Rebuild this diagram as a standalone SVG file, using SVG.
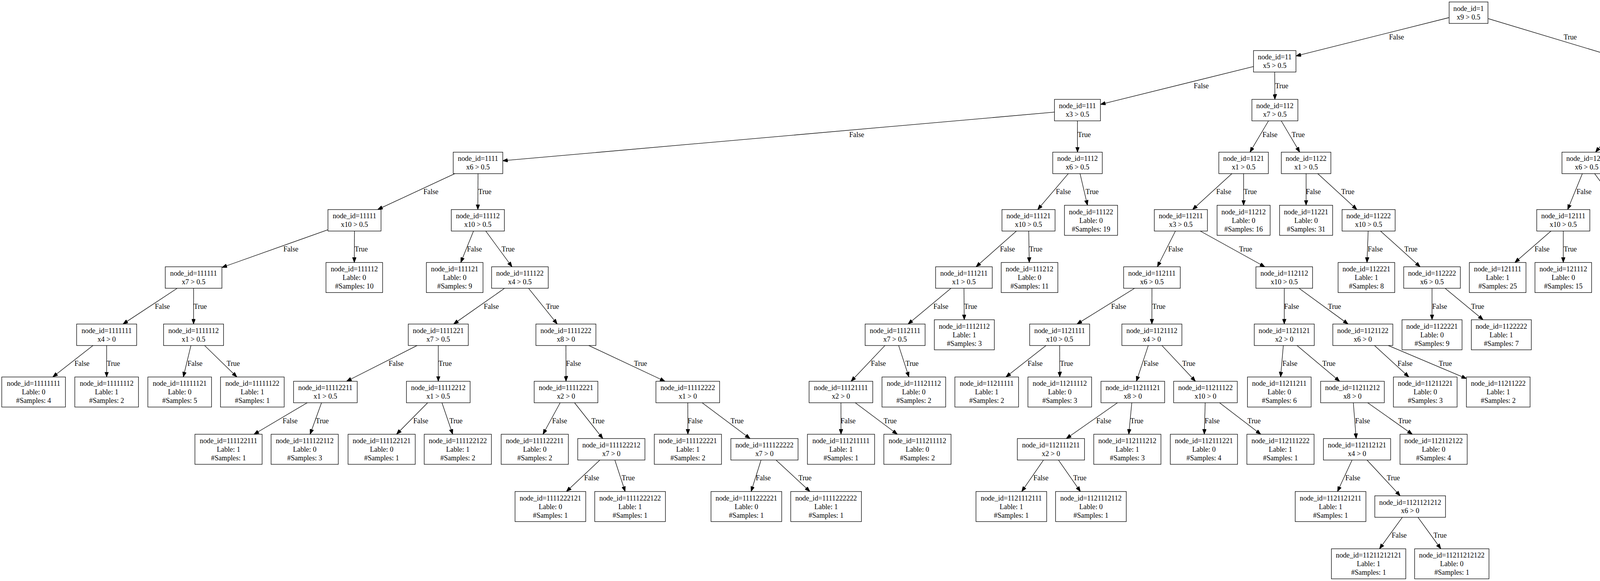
<svg xmlns="http://www.w3.org/2000/svg" width="5788" height="1488" viewBox="0 0 5788 1488">
<style>
.nodes text,.edges text{font-family:"Liberation Serif","Times New Roman",serif;font-size:18.2px;fill:#000}
.nodes text{text-anchor:middle}
.edges line{stroke:#000;stroke-width:1.3;fill:none;marker-end:url(#arr)}
</style>
<defs>
<marker id="arr" markerUnits="userSpaceOnUse" viewBox="0 0 13 9.8" refX="13" refY="4.9" markerWidth="13" markerHeight="9.8" orient="auto"><path d="M0,0 L13,4.9 L0,9.8 z" fill="#000" stroke="#000" stroke-width="1"/></marker>
<rect id="i1" x="-49.75" y="-27.5" width="99.5" height="55" fill="#fff" stroke="#000" stroke-width="1.3"/>
<rect id="i2" x="-54.3" y="-27.5" width="108.6" height="55" fill="#fff" stroke="#000" stroke-width="1.3"/>
<rect id="i3" x="-58.85" y="-27.5" width="117.7" height="55" fill="#fff" stroke="#000" stroke-width="1.3"/>
<rect id="i4" x="-63.4" y="-27.5" width="126.8" height="55" fill="#fff" stroke="#000" stroke-width="1.3"/>
<rect id="i5" x="-67.95" y="-27.5" width="135.9" height="55" fill="#fff" stroke="#000" stroke-width="1.3"/>
<rect id="i6" x="-72.5" y="-27.5" width="145" height="55" fill="#fff" stroke="#000" stroke-width="1.3"/>
<rect id="i7" x="-76.8" y="-27.5" width="153.6" height="55" fill="#fff" stroke="#000" stroke-width="1.3"/>
<rect id="i8" x="-81.5" y="-27.5" width="163" height="55" fill="#fff" stroke="#000" stroke-width="1.3"/>
<rect id="i9" x="-86" y="-27.5" width="172" height="55" fill="#fff" stroke="#000" stroke-width="1.3"/>
<rect id="i10" x="-90.5" y="-27.5" width="181" height="55" fill="#fff" stroke="#000" stroke-width="1.3"/>
<rect id="l4" x="-63.4" y="-38.5" width="126.8" height="77" fill="#fff" stroke="#000" stroke-width="1.3"/>
<rect id="l5" x="-67.95" y="-38.5" width="135.9" height="77" fill="#fff" stroke="#000" stroke-width="1.3"/>
<rect id="l6" x="-72.5" y="-38.5" width="145" height="77" fill="#fff" stroke="#000" stroke-width="1.3"/>
<rect id="l7" x="-76.8" y="-38.5" width="153.6" height="77" fill="#fff" stroke="#000" stroke-width="1.3"/>
<rect id="l8" x="-81.5" y="-38.5" width="163" height="77" fill="#fff" stroke="#000" stroke-width="1.3"/>
<rect id="l9" x="-86" y="-38.5" width="172" height="77" fill="#fff" stroke="#000" stroke-width="1.3"/>
<rect id="l10" x="-90.5" y="-38.5" width="181" height="77" fill="#fff" stroke="#000" stroke-width="1.3"/>
<rect id="l11" x="-95.15" y="-38.5" width="190.3" height="77" fill="#fff" stroke="#000" stroke-width="1.3"/>
</defs>
<rect x="0" y="0" width="5788" height="1488" fill="#fff"/>
<g class="edges" id="edges">
<g><line x1="3709.75" y1="45" x2="3317.6" y2="143.4"/><text x="3556" y="101.2">False</text></g>
<g><line x1="3809.25" y1="47.5" x2="4118.4" y2="140.6"/><text x="4003" y="101.2">True</text></g>
<g><line x1="3209" y1="170.4" x2="2817.2" y2="267.4"/><text x="3056" y="225.7">False</text></g>
<g><line x1="3263.3" y1="184.5" x2="3263.7" y2="254.5"/><text x="3264.5" y="225.7">True</text></g>
<g><line x1="4172.7" y1="184.5" x2="4173" y2="254.5"/><text x="4174" y="225.7">False</text></g>
<g><line x1="4227" y1="182.5" x2="4380.2" y2="254.5"/><text x="4330.4" y="225.7">True</text></g>
<g><line x1="2699.45" y1="287.2" x2="1286.7" y2="411.65"/><text x="2174" y="350.7">False</text></g>
<g><line x1="2758.3" y1="309.5" x2="2758.4" y2="389.7"/><text x="2759" y="350.7">True</text></g>
<g><line x1="3247.4" y1="309.5" x2="3199.9" y2="389.7"/><text x="3232" y="350.7">False</text></g>
<g><line x1="3280" y1="309.5" x2="3327.3" y2="389.7"/><text x="3306.7" y="350.7">True</text></g>
<g><line x1="4150.4" y1="309.5" x2="4084.6" y2="389.7"/><text x="4131.6" y="350.7">False</text></g>
<g><line x1="4181.1" y1="309.5" x2="4201.3" y2="378.7"/><text x="4194.6" y="350.7">True</text></g>
<g><line x1="4438.7" y1="309.5" x2="4438.3" y2="378.7"/><text x="4438.4" y="350.7">False</text></g>
<g><line x1="4472.1" y1="309.5" x2="4569.3" y2="389.7"/><text x="4525.7" y="350.7">True</text></g>
<g><line x1="1164.5" y1="444.7" x2="966.7" y2="536.7"/><text x="1084" y="496.9">False</text></g>
<g><line x1="1223.7" y1="444.7" x2="1223.3" y2="536.7"/><text x="1224.5" y="496.9">True</text></g>
<g><line x1="2734.9" y1="444.7" x2="2656.5" y2="536.7"/><text x="2703" y="496.9">False</text></g>
<g><line x1="2764.9" y1="444.7" x2="2783.9" y2="525.7"/><text x="2779" y="496.9">True</text></g>
<g><line x1="3153.6" y1="444.7" x2="3053" y2="536.7"/><text x="3113.6" y="496.9">False</text></g>
<g><line x1="3183.6" y1="444.7" x2="3183.6" y2="525.7"/><text x="3184" y="496.9">True</text></g>
<g><line x1="3343.6" y1="444.7" x2="3343.6" y2="525.7"/><text x="3343" y="496.9">False</text></g>
<g><line x1="3373.5" y1="444.7" x2="3473.7" y2="536.7"/><text x="3433.6" y="496.9">True</text></g>
<g><line x1="4050.8" y1="444.7" x2="4013.2" y2="536.7"/><text x="4036" y="496.9">False</text></g>
<g><line x1="4082.2" y1="444.7" x2="4149.6" y2="536.7"/><text x="4124" y="496.9">True</text></g>
<g><line x1="4602.7" y1="444.7" x2="4602.7" y2="536.7"/><text x="4602" y="496.9">False</text></g>
<g><line x1="4665.7" y1="433.6" x2="5099.75" y2="546.5"/><text x="4919" y="496.9">True</text></g>
<g><line x1="839.55" y1="588.4" x2="568.1" y2="685"/><text x="725.4" y="643.9">False</text></g>
<g><line x1="907.5" y1="591.7" x2="907" y2="672.3"/><text x="907.8" y="643.9">True</text></g>
<g><line x1="1212.2" y1="591.7" x2="1179.6" y2="672.3"/><text x="1195.5" y="643.9">False</text></g>
<g><line x1="1243.5" y1="591.7" x2="1310.8" y2="683.3"/><text x="1284" y="643.9">True</text></g>
<g><line x1="2602" y1="591.7" x2="2498.7" y2="683.3"/><text x="2560" y="643.9">False</text></g>
<g><line x1="2633.5" y1="591.7" x2="2634.9" y2="672.3"/><text x="2634.8" y="643.9">True</text></g>
<g><line x1="3009.1" y1="591.7" x2="2962.9" y2="683.3"/><text x="2990.5" y="643.9">False</text></g>
<g><line x1="3072.7" y1="591.7" x2="3238" y2="683.3"/><text x="3172" y="643.9">True</text></g>
<g><line x1="3502.5" y1="591.7" x2="3499.5" y2="672.3"/><text x="3501.5" y="643.9">False</text></g>
<g><line x1="3534.1" y1="591.7" x2="3635.5" y2="683.3"/><text x="3595" y="643.9">True</text></g>
<g><line x1="3970.5" y1="591.7" x2="3878.1" y2="672.3"/><text x="3928.5" y="643.9">False</text></g>
<g><line x1="4002" y1="591.7" x2="4002" y2="672.3"/><text x="4003" y="643.9">True</text></g>
<g><line x1="4169.8" y1="591.7" x2="4170" y2="672.3"/><text x="4170.6" y="643.9">False</text></g>
<g><line x1="4201.4" y1="591.7" x2="4293.8" y2="672.3"/><text x="4265.3" y="643.9">True</text></g>
<g><line x1="4584.6" y1="591.7" x2="4524.1" y2="683.3"/><text x="4560" y="643.9">False</text></g>
<g><line x1="4616.8" y1="591.7" x2="4663.9" y2="683.3"/><text x="4645.3" y="643.9">True</text></g>
<g><line x1="5167.7" y1="591.7" x2="5167.5" y2="683.3"/><text x="5167" y="643.9">False</text></g>
<g><line x1="5214.2" y1="591.7" x2="5369" y2="683.3"/><text x="5306.6" y="643.9">True</text></g>
<g><line x1="453.8" y1="738.3" x2="314.8" y2="829.9"/><text x="396.5" y="790.5">False</text></g>
<g><line x1="495.6" y1="738.3" x2="495.5" y2="829.9"/><text x="496" y="790.5">True</text></g>
<g><line x1="1291.8" y1="738.3" x2="1161.2" y2="829.9"/><text x="1238.6" y="790.5">False</text></g>
<g><line x1="1353.1" y1="738.3" x2="1426.6" y2="829.9"/><text x="1397.7" y="790.5">True</text></g>
<g><line x1="2434.6" y1="738.3" x2="2324.6" y2="829.9"/><text x="2389.5" y="790.5">False</text></g>
<g><line x1="2467.7" y1="738.3" x2="2468.5" y2="818.9"/><text x="2468" y="790.5">True</text></g>
<g><line x1="2904.7" y1="738.3" x2="2757" y2="829.9"/><text x="2844.6" y="790.5">False</text></g>
<g><line x1="2949" y1="738.3" x2="2948.8" y2="829.9"/><text x="2950" y="790.5">True</text></g>
<g><line x1="3287.7" y1="738.3" x2="3287.7" y2="829.9"/><text x="3287.3" y="790.5">False</text></g>
<g><line x1="3325.4" y1="738.3" x2="3451.1" y2="829.9"/><text x="3399.5" y="790.5">True</text></g>
<g><line x1="3666" y1="738.3" x2="3666" y2="818.9"/><text x="3666.2" y="790.5">False</text></g>
<g><line x1="3699.3" y1="738.3" x2="3796.8" y2="818.9"/><text x="3766" y="790.5">True</text></g>
<g><line x1="4471.7" y1="738.3" x2="4371.3" y2="818.9"/><text x="4424.9" y="790.5">False</text></g>
<g><line x1="4504.9" y1="738.3" x2="4501.4" y2="829.9"/><text x="4504" y="790.5">True</text></g>
<g><line x1="4678" y1="738.3" x2="4678.4" y2="818.9"/><text x="4678" y="790.5">False</text></g>
<g><line x1="4711.3" y1="738.3" x2="4822.3" y2="829.9"/><text x="4777" y="790.5">True</text></g>
<g><line x1="5147.4" y1="738.3" x2="5080.6" y2="829.9"/><text x="5119.6" y="790.5">False</text></g>
<g><line x1="5180.7" y1="738.3" x2="5219.2" y2="818.9"/><text x="5206.7" y="790.5">True</text></g>
<g><line x1="5415.5" y1="738.3" x2="5415.7" y2="818.9"/><text x="5414" y="790.5">False</text></g>
<g><line x1="5448.6" y1="738.3" x2="5558.9" y2="829.9"/><text x="5513.6" y="790.5">True</text></g>
<g><line x1="237.9" y1="884.9" x2="135.1" y2="965.5"/><text x="190.7" y="937.1">False</text></g>
<g><line x1="273" y1="884.9" x2="273" y2="965.5"/><text x="273.6" y="937.1">True</text></g>
<g><line x1="488.8" y1="884.9" x2="469.3" y2="965.5"/><text x="480" y="937.1">False</text></g>
<g><line x1="523.7" y1="884.9" x2="606.5" y2="965.5"/><text x="580.3" y="937.1">True</text></g>
<g><line x1="1067.8" y1="884.9" x2="887.2" y2="976.5"/><text x="995" y="937.1">False</text></g>
<g><line x1="1122" y1="884.9" x2="1122" y2="976.5"/><text x="1122.8" y="937.1">True</text></g>
<g><line x1="1448.7" y1="884.9" x2="1449" y2="976.5"/><text x="1449" y="937.1">False</text></g>
<g><line x1="1507.2" y1="884.9" x2="1702.2" y2="976.5"/><text x="1623" y="937.1">True</text></g>
<g><line x1="2265.5" y1="884.9" x2="2178.8" y2="976.5"/><text x="2229.5" y="937.1">False</text></g>
<g><line x1="2300.5" y1="884.9" x2="2326.8" y2="965.5"/><text x="2318" y="937.1">True</text></g>
<g><line x1="2677.7" y1="884.9" x2="2575.1" y2="965.5"/><text x="2630.7" y="937.1">False</text></g>
<g><line x1="2712.7" y1="884.9" x2="2713" y2="965.5"/><text x="2713.6" y="937.1">True</text></g>
<g><line x1="2939.6" y1="884.9" x2="2909.2" y2="976.5"/><text x="2927.5" y="937.1">False</text></g>
<g><line x1="2974.5" y1="884.9" x2="3060.3" y2="976.5"/><text x="3026.5" y="937.1">True</text></g>
<g><line x1="3285.3" y1="884.9" x2="3278.3" y2="965.5"/><text x="3283" y="937.1">False</text></g>
<g><line x1="3320.5" y1="884.9" x2="3429.5" y2="976.5"/><text x="3385.2" y="937.1">True</text></g>
<g><line x1="3518.8" y1="884.9" x2="3606.7" y2="965.5"/><text x="3577.8" y="937.1">False</text></g>
<g><line x1="3553.8" y1="884.9" x2="3754.25" y2="969.6"/><text x="3683.3" y="937.1">True</text></g>
<g><line x1="4465.4" y1="884.9" x2="4363" y2="965.5"/><text x="4418" y="937.1">False</text></g>
<g><line x1="4500.3" y1="884.9" x2="4500.7" y2="965.5"/><text x="4501.8" y="937.1">True</text></g>
<g><line x1="4824" y1="884.9" x2="4731.3" y2="965.5"/><text x="4782.4" y="937.1">False</text></g>
<g><line x1="4859" y1="884.9" x2="4868.8" y2="965.5"/><text x="4865.4" y="937.1">True</text></g>
<g><line x1="5060.5" y1="884.9" x2="5061" y2="965.5"/><text x="5060" y="937.1">False</text></g>
<g><line x1="5095.5" y1="884.9" x2="5198" y2="965.5"/><text x="5165" y="937.1">True</text></g>
<g><line x1="5577.3" y1="884.9" x2="5534.2" y2="965.5"/><text x="5557" y="937.1">False</text></g>
<g><line x1="5612.3" y1="884.9" x2="5671.6" y2="965.5"/><text x="5652.4" y="937.1">True</text></g>
<g><line x1="786.5" y1="1031.5" x2="650.1" y2="1112.2"/><text x="723.4" y="1083.7">False</text></g>
<g><line x1="823.1" y1="1031.5" x2="793.9" y2="1112.2"/><text x="808" y="1083.7">True</text></g>
<g><line x1="1094.8" y1="1031.5" x2="1015.1" y2="1112.2"/><text x="1058" y="1083.7">False</text></g>
<g><line x1="1131.4" y1="1031.5" x2="1158.9" y2="1112.2"/><text x="1150.4" y="1083.7">True</text></g>
<g><line x1="1434" y1="1031.5" x2="1390" y2="1112.2"/><text x="1413.5" y="1083.7">False</text></g>
<g><line x1="1470.8" y1="1031.5" x2="1543.2" y2="1123.2"/><text x="1514" y="1083.7">True</text></g>
<g><line x1="1760.7" y1="1031.5" x2="1761" y2="1112.2"/><text x="1760.5" y="1083.7">False</text></g>
<g><line x1="1797.5" y1="1031.5" x2="1920.2" y2="1123.2"/><text x="1870.2" y="1083.7">True</text></g>
<g><line x1="2152.8" y1="1031.5" x2="2153" y2="1112.2"/><text x="2152" y="1083.7">False</text></g>
<g><line x1="2189.5" y1="1031.5" x2="2297.2" y2="1112.2"/><text x="2262" y="1083.7">True</text></g>
<g><line x1="2860.7" y1="1031.5" x2="2729.7" y2="1123.2"/><text x="2806.5" y="1083.7">False</text></g>
<g><line x1="2897.4" y1="1031.5" x2="2889.7" y2="1112.2"/><text x="2893.5" y="1083.7">True</text></g>
<g><line x1="3085.3" y1="1031.5" x2="3083" y2="1112.2"/><text x="3084" y="1083.7">False</text></g>
<g><line x1="3122" y1="1031.5" x2="3227.6" y2="1112.2"/><text x="3193.6" y="1083.7">True</text></g>
<g><line x1="3464.5" y1="1031.5" x2="3471.8" y2="1123.2"/><text x="3469" y="1083.7">False</text></g>
<g><line x1="3501.3" y1="1031.5" x2="3615.5" y2="1112.2"/><text x="3579.2" y="1083.7">True</text></g>
<g><line x1="1535.7" y1="1178.2" x2="1450" y2="1258.8"/><text x="1495.4" y="1230.4">False</text></g>
<g><line x1="1574" y1="1178.2" x2="1600.4" y2="1258.8"/><text x="1591.6" y="1230.4">True</text></g>
<g><line x1="1948.3" y1="1178.2" x2="1922.9" y2="1258.8"/><text x="1934.8" y="1230.4">False</text></g>
<g><line x1="1986.6" y1="1178.2" x2="2073.4" y2="1258.8"/><text x="2044" y="1230.4">True</text></g>
<g><line x1="2671.4" y1="1178.2" x2="2615.6" y2="1258.8"/><text x="2645.6" y="1230.4">False</text></g>
<g><line x1="2709.6" y1="1178.2" x2="2765.9" y2="1258.8"/><text x="2747.6" y="1230.4">True</text></g>
<g><line x1="3461.3" y1="1178.2" x2="3424" y2="1258.8"/><text x="3444" y="1230.4">False</text></g>
<g><line x1="3499.5" y1="1178.2" x2="3584.5" y2="1269.8"/><text x="3550.2" y="1230.4">True</text></g>
<g><line x1="3590" y1="1324.8" x2="3531.5" y2="1405.5"/><text x="3562.7" y="1377">False</text></g>
<g><line x1="3630" y1="1324.8" x2="3688.6" y2="1405.5"/><text x="3669.8" y="1377">True</text></g>
</g>
<g class="nodes" id="nodes">
<g id="n1" transform="translate(3759.5,32.5)"><use href="#i1"/><text y="-4.8">node_id=1</text><text y="17.2">x9 &gt; 0.5</text></g>
<g id="n11" transform="translate(3263.3,157)"><use href="#i2"/><text y="-4.8">node_id=11</text><text y="17.2">x5 &gt; 0.5</text></g>
<g id="n12" transform="translate(4172.7,157)"><use href="#i2"/><text y="-4.8">node_id=12</text><text y="17.2">x7 &gt; 0.5</text></g>
<g id="n111" transform="translate(2758.3,282)"><use href="#i3"/><text y="-4.8">node_id=111</text><text y="17.2">x3 &gt; 0.5</text></g>
<g id="n112" transform="translate(3263.7,282)"><use href="#i3"/><text y="-4.8">node_id=112</text><text y="17.2">x7 &gt; 0.5</text></g>
<g id="n121" transform="translate(4173,282)"><use href="#i3"/><text y="-4.8">node_id=121</text><text y="17.2">x1 &gt; 0.5</text></g>
<g id="n122" transform="translate(4438.7,282)"><use href="#i3"/><text y="-4.8">node_id=122</text><text y="17.2">x1 &gt; 0.5</text></g>
<g id="n1111" transform="translate(1223.7,417.2)"><use href="#i4"/><text y="-4.8">node_id=1111</text><text y="17.2">x6 &gt; 0.5</text></g>
<g id="n1112" transform="translate(2758.4,417.2)"><use href="#i4"/><text y="-4.8">node_id=1112</text><text y="17.2">x6 &gt; 0.5</text></g>
<g id="n1121" transform="translate(3183.6,417.2)"><use href="#i4"/><text y="-4.8">node_id=1121</text><text y="17.2">x1 &gt; 0.5</text></g>
<g id="n1122" transform="translate(3343.6,417.2)"><use href="#i4"/><text y="-4.8">node_id=1122</text><text y="17.2">x1 &gt; 0.5</text></g>
<g id="n1211" transform="translate(4062,417.2)"><use href="#i4"/><text y="-4.8">node_id=1211</text><text y="17.2">x6 &gt; 0.5</text></g>
<g id="n1212" transform="translate(4212.6,417.2)"><use href="#l4"/><text y="-15.6">node_id=1212</text><text y="6.4">Lable: 0</text><text y="28.4">#Samples: 28</text></g>
<g id="n1221" transform="translate(4438.3,417.2)"><use href="#l4"/><text y="-15.6">node_id=1221</text><text y="6.4">Lable: 0</text><text y="28.4">#Samples: 70</text></g>
<g id="n1222" transform="translate(4602.7,417.2)"><use href="#i4"/><text y="-4.8">node_id=1222</text><text y="17.2">x4 &gt; 0.5</text></g>
<g id="n11111" transform="translate(907.5,564.2)"><use href="#i5"/><text y="-4.8">node_id=11111</text><text y="17.2">x10 &gt; 0.5</text></g>
<g id="n11112" transform="translate(1223.3,564.2)"><use href="#i5"/><text y="-4.8">node_id=11112</text><text y="17.2">x10 &gt; 0.5</text></g>
<g id="n11121" transform="translate(2633,564.2)"><use href="#i5"/><text y="-4.8">node_id=11121</text><text y="17.2">x10 &gt; 0.5</text></g>
<g id="n11122" transform="translate(2793,564.2)"><use href="#l5"/><text y="-15.6">node_id=11122</text><text y="6.4">Lable: 0</text><text y="28.4">#Samples: 19</text></g>
<g id="n11211" transform="translate(3023,564.2)"><use href="#i5"/><text y="-4.8">node_id=11211</text><text y="17.2">x3 &gt; 0.5</text></g>
<g id="n11212" transform="translate(3183.6,564.2)"><use href="#l5"/><text y="-15.6">node_id=11212</text><text y="6.4">Lable: 0</text><text y="28.4">#Samples: 16</text></g>
<g id="n11221" transform="translate(3343.6,564.2)"><use href="#l5"/><text y="-15.6">node_id=11221</text><text y="6.4">Lable: 0</text><text y="28.4">#Samples: 31</text></g>
<g id="n11222" transform="translate(3503.6,564.2)"><use href="#i5"/><text y="-4.8">node_id=11222</text><text y="17.2">x10 &gt; 0.5</text></g>
<g id="n12111" transform="translate(4002,564.2)"><use href="#i5"/><text y="-4.8">node_id=12111</text><text y="17.2">x10 &gt; 0.5</text></g>
<g id="n12112" transform="translate(4169.8,564.2)"><use href="#i5"/><text y="-4.8">node_id=12112</text><text y="17.2">x10 &gt; 0.5</text></g>
<g id="n12221" transform="translate(4602.7,564.2)"><use href="#i5"/><text y="-4.8">node_id=12221</text><text y="17.2">x5 &gt; 0.5</text></g>
<g id="n12222" transform="translate(5167.7,564.2)"><use href="#i5"/><text y="-4.8">node_id=12222</text><text y="17.2">x2 &gt; 0.5</text></g>
<g id="n111111" transform="translate(495.6,710.8)"><use href="#i6"/><text y="-4.8">node_id=111111</text><text y="17.2">x7 &gt; 0.5</text></g>
<g id="n111112" transform="translate(907,710.8)"><use href="#l6"/><text y="-15.6">node_id=111112</text><text y="6.4">Lable: 0</text><text y="28.4">#Samples: 10</text></g>
<g id="n111121" transform="translate(1164,710.8)"><use href="#l6"/><text y="-15.6">node_id=111121</text><text y="6.4">Lable: 0</text><text y="28.4">#Samples: 9</text></g>
<g id="n111122" transform="translate(1331,710.8)"><use href="#i6"/><text y="-4.8">node_id=111122</text><text y="17.2">x4 &gt; 0.5</text></g>
<g id="n111211" transform="translate(2467.7,710.8)"><use href="#i6"/><text y="-4.8">node_id=111211</text><text y="17.2">x1 &gt; 0.5</text></g>
<g id="n111212" transform="translate(2635.6,710.8)"><use href="#l6"/><text y="-15.6">node_id=111212</text><text y="6.4">Lable: 0</text><text y="28.4">#Samples: 11</text></g>
<g id="n112111" transform="translate(2949,710.8)"><use href="#i6"/><text y="-4.8">node_id=112111</text><text y="17.2">x6 &gt; 0.5</text></g>
<g id="n112112" transform="translate(3287.7,710.8)"><use href="#i6"/><text y="-4.8">node_id=112112</text><text y="17.2">x10 &gt; 0.5</text></g>
<g id="n112221" transform="translate(3498,710.8)"><use href="#l6"/><text y="-15.6">node_id=112221</text><text y="6.4">Lable: 1</text><text y="28.4">#Samples: 8</text></g>
<g id="n112222" transform="translate(3666,710.8)"><use href="#i6"/><text y="-4.8">node_id=112222</text><text y="17.2">x6 &gt; 0.5</text></g>
<g id="n121111" transform="translate(3834,710.8)"><use href="#l6"/><text y="-15.6">node_id=121111</text><text y="6.4">Lable: 1</text><text y="28.4">#Samples: 25</text></g>
<g id="n121112" transform="translate(4002,710.8)"><use href="#l6"/><text y="-15.6">node_id=121112</text><text y="6.4">Lable: 0</text><text y="28.4">#Samples: 15</text></g>
<g id="n121121" transform="translate(4170,710.8)"><use href="#l6"/><text y="-15.6">node_id=121121</text><text y="6.4">Lable: 0</text><text y="28.4">#Samples: 19</text></g>
<g id="n121122" transform="translate(4338,710.8)"><use href="#l6"/><text y="-15.6">node_id=121122</text><text y="6.4">Lable: 1</text><text y="28.4">#Samples: 16</text></g>
<g id="n122211" transform="translate(4506,710.8)"><use href="#i6"/><text y="-4.8">node_id=122211</text><text y="17.2">x10 &gt; 0.5</text></g>
<g id="n122212" transform="translate(4678,710.8)"><use href="#i6"/><text y="-4.8">node_id=122212</text><text y="17.2">x10 &gt; 0.5</text></g>
<g id="n122221" transform="translate(5167.5,710.8)"><use href="#i6"/><text y="-4.8">node_id=122221</text><text y="17.2">x6 &gt; 0</text></g>
<g id="n122222" transform="translate(5415.5,710.8)"><use href="#i6"/><text y="-4.8">node_id=122222</text><text y="17.2">x10 &gt; 0.5</text></g>
<g id="n1111111" transform="translate(273,857.4)"><use href="#i7"/><text y="-4.8">node_id=1111111</text><text y="17.2">x4 &gt; 0</text></g>
<g id="n1111112" transform="translate(495.5,857.4)"><use href="#i7"/><text y="-4.8">node_id=1111112</text><text y="17.2">x1 &gt; 0.5</text></g>
<g id="n1111221" transform="translate(1122,857.4)"><use href="#i7"/><text y="-4.8">node_id=1111221</text><text y="17.2">x7 &gt; 0.5</text></g>
<g id="n1111222" transform="translate(1448.7,857.4)"><use href="#i7"/><text y="-4.8">node_id=1111222</text><text y="17.2">x8 &gt; 0</text></g>
<g id="n1112111" transform="translate(2291.5,857.4)"><use href="#i7"/><text y="-4.8">node_id=1112111</text><text y="17.2">x7 &gt; 0.5</text></g>
<g id="n1112112" transform="translate(2468.7,857.4)"><use href="#l7"/><text y="-15.6">node_id=1112112</text><text y="6.4">Lable: 1</text><text y="28.4">#Samples: 3</text></g>
<g id="n1121111" transform="translate(2712.7,857.4)"><use href="#i7"/><text y="-4.8">node_id=1121111</text><text y="17.2">x10 &gt; 0.5</text></g>
<g id="n1121112" transform="translate(2948.8,857.4)"><use href="#i7"/><text y="-4.8">node_id=1121112</text><text y="17.2">x4 &gt; 0</text></g>
<g id="n1121121" transform="translate(3287.7,857.4)"><use href="#i7"/><text y="-4.8">node_id=1121121</text><text y="17.2">x2 &gt; 0</text></g>
<g id="n1121122" transform="translate(3488.8,857.4)"><use href="#i7"/><text y="-4.8">node_id=1121122</text><text y="17.2">x6 &gt; 0</text></g>
<g id="n1122221" transform="translate(3666,857.4)"><use href="#l7"/><text y="-15.6">node_id=1122221</text><text y="6.4">Lable: 0</text><text y="28.4">#Samples: 9</text></g>
<g id="n1122222" transform="translate(3843.4,857.4)"><use href="#l7"/><text y="-15.6">node_id=1122222</text><text y="6.4">Lable: 1</text><text y="28.4">#Samples: 7</text></g>
<g id="n1222111" transform="translate(4323.3,857.4)"><use href="#l7"/><text y="-15.6">node_id=1222111</text><text y="6.4">Lable: 0</text><text y="28.4">#Samples: 0</text></g>
<g id="n1222112" transform="translate(4500.3,857.4)"><use href="#i7"/><text y="-4.8">node_id=1222112</text><text y="17.2">x6 &gt; 0.5</text></g>
<g id="n1222121" transform="translate(4678.5,857.4)"><use href="#l7"/><text y="-15.6">node_id=1222121</text><text y="6.4">Lable: 1</text><text y="28.4">#Samples: 3</text></g>
<g id="n1222122" transform="translate(4855.6,857.4)"><use href="#i7"/><text y="-4.8">node_id=1222122</text><text y="17.2">x6 &gt; 0.5</text></g>
<g id="n1222211" transform="translate(5060.5,857.4)"><use href="#i7"/><text y="-4.8">node_id=1222211</text><text y="17.2">x10 &gt; 0</text></g>
<g id="n1222212" transform="translate(5237.6,857.4)"><use href="#l7"/><text y="-15.6">node_id=1222212</text><text y="6.4">Lable: 1</text><text y="28.4">#Samples: 2</text></g>
<g id="n1222221" transform="translate(5415.7,857.4)"><use href="#l7"/><text y="-15.6">node_id=1222221</text><text y="6.4">Lable: 1</text><text y="28.4">#Samples: 3</text></g>
<g id="n1222222" transform="translate(5592,857.4)"><use href="#i7"/><text y="-4.8">node_id=1222222</text><text y="17.2">x6 &gt; 0.5</text></g>
<g id="n11111111" transform="translate(86,1004)"><use href="#l8"/><text y="-15.6">node_id=11111111</text><text y="6.4">Lable: 0</text><text y="28.4">#Samples: 4</text></g>
<g id="n11111112" transform="translate(273,1004)"><use href="#l8"/><text y="-15.6">node_id=11111112</text><text y="6.4">Lable: 1</text><text y="28.4">#Samples: 2</text></g>
<g id="n11111121" transform="translate(460,1004)"><use href="#l8"/><text y="-15.6">node_id=11111121</text><text y="6.4">Lable: 0</text><text y="28.4">#Samples: 5</text></g>
<g id="n11111122" transform="translate(646,1004)"><use href="#l8"/><text y="-15.6">node_id=11111122</text><text y="6.4">Lable: 1</text><text y="28.4">#Samples: 1</text></g>
<g id="n11112211" transform="translate(833,1004)"><use href="#i8"/><text y="-4.8">node_id=11112211</text><text y="17.2">x1 &gt; 0.5</text></g>
<g id="n11112212" transform="translate(1122,1004)"><use href="#i8"/><text y="-4.8">node_id=11112212</text><text y="17.2">x1 &gt; 0.5</text></g>
<g id="n11112221" transform="translate(1449,1004)"><use href="#i8"/><text y="-4.8">node_id=11112221</text><text y="17.2">x2 &gt; 0</text></g>
<g id="n11112222" transform="translate(1760.7,1004)"><use href="#i8"/><text y="-4.8">node_id=11112222</text><text y="17.2">x1 &gt; 0</text></g>
<g id="n11121111" transform="translate(2152.8,1004)"><use href="#i8"/><text y="-4.8">node_id=11121111</text><text y="17.2">x2 &gt; 0</text></g>
<g id="n11121112" transform="translate(2339.4,1004)"><use href="#l8"/><text y="-15.6">node_id=11121112</text><text y="6.4">Lable: 0</text><text y="28.4">#Samples: 2</text></g>
<g id="n11211111" transform="translate(2526,1004)"><use href="#l8"/><text y="-15.6">node_id=11211111</text><text y="6.4">Lable: 1</text><text y="28.4">#Samples: 2</text></g>
<g id="n11211112" transform="translate(2713,1004)"><use href="#l8"/><text y="-15.6">node_id=11211112</text><text y="6.4">Lable: 0</text><text y="28.4">#Samples: 3</text></g>
<g id="n11211121" transform="translate(2900,1004)"><use href="#i8"/><text y="-4.8">node_id=11211121</text><text y="17.2">x8 &gt; 0</text></g>
<g id="n11211122" transform="translate(3086,1004)"><use href="#i8"/><text y="-4.8">node_id=11211122</text><text y="17.2">x10 &gt; 0</text></g>
<g id="n11211211" transform="translate(3275,1004)"><use href="#l8"/><text y="-15.6">node_id=11211211</text><text y="6.4">Lable: 0</text><text y="28.4">#Samples: 6</text></g>
<g id="n11211212" transform="translate(3462.3,1004)"><use href="#i8"/><text y="-4.8">node_id=11211212</text><text y="17.2">x8 &gt; 0</text></g>
<g id="n11211221" transform="translate(3648.7,1004)"><use href="#l8"/><text y="-15.6">node_id=11211221</text><text y="6.4">Lable: 0</text><text y="28.4">#Samples: 3</text></g>
<g id="n11211222" transform="translate(3835.5,1004)"><use href="#l8"/><text y="-15.6">node_id=11211222</text><text y="6.4">Lable: 1</text><text y="28.4">#Samples: 2</text></g>
<g id="n12221121" transform="translate(4314,1004)"><use href="#l8"/><text y="-15.6">node_id=12221121</text><text y="6.4">Lable: 0</text><text y="28.4">#Samples: 2</text></g>
<g id="n12221122" transform="translate(4500.7,1004)"><use href="#l8"/><text y="-15.6">node_id=12221122</text><text y="6.4">Lable: 1</text><text y="28.4">#Samples: 2</text></g>
<g id="n12221221" transform="translate(4687,1004)"><use href="#l8"/><text y="-15.6">node_id=12221221</text><text y="6.4">Lable: 0</text><text y="28.4">#Samples: 4</text></g>
<g id="n12221222" transform="translate(4873.5,1004)"><use href="#l8"/><text y="-15.6">node_id=12221222</text><text y="6.4">Lable: 1</text><text y="28.4">#Samples: 2</text></g>
<g id="n12222111" transform="translate(5061,1004)"><use href="#l8"/><text y="-15.6">node_id=12222111</text><text y="6.4">Lable: 1</text><text y="28.4">#Samples: 3</text></g>
<g id="n12222112" transform="translate(5247,1004)"><use href="#l8"/><text y="-15.6">node_id=12222112</text><text y="6.4">Lable: 0</text><text y="28.4">#Samples: 2</text></g>
<g id="n12222221" transform="translate(5513.6,1004)"><use href="#l8"/><text y="-15.6">node_id=12222221</text><text y="6.4">Lable: 0</text><text y="28.4">#Samples: 4</text></g>
<g id="n12222222" transform="translate(5700,1004)"><use href="#l8"/><text y="-15.6">node_id=12222222</text><text y="6.4">Lable: 1</text><text y="28.4">#Samples: 4</text></g>
<g id="n111122111" transform="translate(585,1150.7)"><use href="#l9"/><text y="-15.6">node_id=111122111</text><text y="6.4">Lable: 1</text><text y="28.4">#Samples: 1</text></g>
<g id="n111122112" transform="translate(780,1150.7)"><use href="#l9"/><text y="-15.6">node_id=111122112</text><text y="6.4">Lable: 0</text><text y="28.4">#Samples: 3</text></g>
<g id="n111122121" transform="translate(977,1150.7)"><use href="#l9"/><text y="-15.6">node_id=111122121</text><text y="6.4">Lable: 0</text><text y="28.4">#Samples: 1</text></g>
<g id="n111122122" transform="translate(1172,1150.7)"><use href="#l9"/><text y="-15.6">node_id=111122122</text><text y="6.4">Lable: 1</text><text y="28.4">#Samples: 2</text></g>
<g id="n111122211" transform="translate(1369,1150.7)"><use href="#l9"/><text y="-15.6">node_id=111122211</text><text y="6.4">Lable: 0</text><text y="28.4">#Samples: 2</text></g>
<g id="n111122212" transform="translate(1565,1150.7)"><use href="#i9"/><text y="-4.8">node_id=111122212</text><text y="17.2">x7 &gt; 0</text></g>
<g id="n111122221" transform="translate(1761,1150.7)"><use href="#l9"/><text y="-15.6">node_id=111122221</text><text y="6.4">Lable: 1</text><text y="28.4">#Samples: 2</text></g>
<g id="n111122222" transform="translate(1957,1150.7)"><use href="#i9"/><text y="-4.8">node_id=111122222</text><text y="17.2">x7 &gt; 0</text></g>
<g id="n111211111" transform="translate(2153,1150.7)"><use href="#l9"/><text y="-15.6">node_id=111211111</text><text y="6.4">Lable: 1</text><text y="28.4">#Samples: 1</text></g>
<g id="n111211112" transform="translate(2348.6,1150.7)"><use href="#l9"/><text y="-15.6">node_id=111211112</text><text y="6.4">Lable: 0</text><text y="28.4">#Samples: 2</text></g>
<g id="n112111211" transform="translate(2690.4,1150.7)"><use href="#i9"/><text y="-4.8">node_id=112111211</text><text y="17.2">x2 &gt; 0</text></g>
<g id="n112111212" transform="translate(2886,1150.7)"><use href="#l9"/><text y="-15.6">node_id=112111212</text><text y="6.4">Lable: 1</text><text y="28.4">#Samples: 3</text></g>
<g id="n112111221" transform="translate(3082,1150.7)"><use href="#l9"/><text y="-15.6">node_id=112111221</text><text y="6.4">Lable: 0</text><text y="28.4">#Samples: 4</text></g>
<g id="n112111222" transform="translate(3278,1150.7)"><use href="#l9"/><text y="-15.6">node_id=112111222</text><text y="6.4">Lable: 1</text><text y="28.4">#Samples: 1</text></g>
<g id="n112112121" transform="translate(3474,1150.7)"><use href="#i9"/><text y="-4.8">node_id=112112121</text><text y="17.2">x4 &gt; 0</text></g>
<g id="n112112122" transform="translate(3670,1150.7)"><use href="#l9"/><text y="-15.6">node_id=112112122</text><text y="6.4">Lable: 0</text><text y="28.4">#Samples: 4</text></g>
<g id="n1111222121" transform="translate(1409,1297.3)"><use href="#l10"/><text y="-15.6">node_id=1111222121</text><text y="6.4">Lable: 0</text><text y="28.4">#Samples: 1</text></g>
<g id="n1111222122" transform="translate(1613,1297.3)"><use href="#l10"/><text y="-15.6">node_id=1111222122</text><text y="6.4">Lable: 1</text><text y="28.4">#Samples: 1</text></g>
<g id="n1111222221" transform="translate(1910.7,1297.3)"><use href="#l10"/><text y="-15.6">node_id=1111222221</text><text y="6.4">Lable: 0</text><text y="28.4">#Samples: 1</text></g>
<g id="n1111222222" transform="translate(2114.8,1297.3)"><use href="#l10"/><text y="-15.6">node_id=1111222222</text><text y="6.4">Lable: 1</text><text y="28.4">#Samples: 1</text></g>
<g id="n1121112111" transform="translate(2589,1297.3)"><use href="#l10"/><text y="-15.6">node_id=1121112111</text><text y="6.4">Lable: 1</text><text y="28.4">#Samples: 1</text></g>
<g id="n1121112112" transform="translate(2792.8,1297.3)"><use href="#l10"/><text y="-15.6">node_id=1121112112</text><text y="6.4">Lable: 0</text><text y="28.4">#Samples: 1</text></g>
<g id="n1121121211" transform="translate(3406.2,1297.3)"><use href="#l10"/><text y="-15.6">node_id=1121121211</text><text y="6.4">Lable: 1</text><text y="28.4">#Samples: 1</text></g>
<g id="n1121121212" transform="translate(3610,1297.3)"><use href="#i10"/><text y="-4.8">node_id=1121121212</text><text y="17.2">x6 &gt; 0</text></g>
<g id="n11211212121" transform="translate(3503.6,1444)"><use href="#l11"/><text y="-15.6">node_id=11211212121</text><text y="6.4">Lable: 1</text><text y="28.4">#Samples: 1</text></g>
<g id="n11211212122" transform="translate(3716.6,1444)"><use href="#l11"/><text y="-15.6">node_id=11211212122</text><text y="6.4">Lable: 0</text><text y="28.4">#Samples: 1</text></g>
</g>
</svg>
